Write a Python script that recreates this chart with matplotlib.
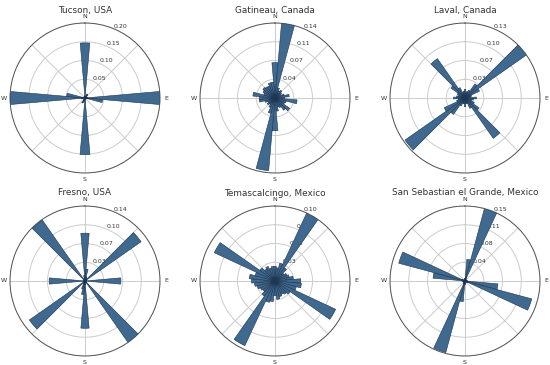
import numpy as np
import matplotlib.pyplot as plt

# wind direction bins (degrees, clockwise from north), 10 degree sectors
directions = np.arange(0, 360, 10)

titles = ["Tucson, USA", "Gatineau, Canada", "Laval, Canada",
          "Fresno, USA", "Temascalcingo, Mexico", "San Sebastian el Grande, Mexico"]

tucson = [0.147, 0.005, 0.004, 0.012, 0.010, 0.004, 0.003, 0.004, 0.008, 0.200,
          0.047, 0.006, 0.003, 0.003, 0.002, 0.003, 0.003, 0.005, 0.151, 0.008,
          0.012, 0.015, 0.005, 0.003, 0.003, 0.004, 0.010, 0.199, 0.049, 0.006,
          0.003, 0.003, 0.003, 0.004, 0.004, 0.006]
gatineau = [0.067, 0.142, 0.020, 0.015, 0.018, 0.015, 0.012, 0.018, 0.027, 0.018,
            0.042, 0.022, 0.020, 0.034, 0.028, 0.020, 0.018, 0.025, 0.062, 0.138,
            0.030, 0.020, 0.015, 0.018, 0.015, 0.020, 0.030, 0.030, 0.042, 0.022,
            0.025, 0.028, 0.026, 0.025, 0.030, 0.030]
laval = [0.015, 0.010, 0.012, 0.015, 0.030, 0.131, 0.028, 0.012, 0.010, 0.020,
         0.015, 0.012, 0.018, 0.030, 0.086, 0.020, 0.010, 0.010, 0.015, 0.010,
         0.010, 0.015, 0.035, 0.128, 0.040, 0.015, 0.012, 0.020, 0.015, 0.012,
         0.015, 0.030, 0.084, 0.020, 0.010, 0.012]
fresno = [0.088, 0.022, 0.008, 0.005, 0.005, 0.126, 0.004, 0.003, 0.003, 0.066,
          0.003, 0.003, 0.003, 0.004, 0.138, 0.004, 0.003, 0.006, 0.087, 0.025,
          0.015, 0.005, 0.004, 0.125, 0.004, 0.003, 0.003, 0.066, 0.003, 0.003,
          0.003, 0.004, 0.137, 0.004, 0.005, 0.010]
temascalcingo = [0.020, 0.018, 0.025, 0.102, 0.022, 0.015, 0.018, 0.020, 0.025, 0.035,
                 0.036, 0.030, 0.091, 0.025, 0.022, 0.020, 0.022, 0.025, 0.020, 0.028,
                 0.030, 0.097, 0.025, 0.020, 0.022, 0.025, 0.028, 0.032, 0.035, 0.028,
                 0.091, 0.025, 0.020, 0.022, 0.018, 0.020]
san_sebastian = [0.006, 0.044, 0.152, 0.005, 0.003, 0.003, 0.003, 0.003, 0.004, 0.006,
                 0.067, 0.140, 0.006, 0.004, 0.003, 0.003, 0.003, 0.005, 0.008, 0.042,
                 0.150, 0.006, 0.004, 0.003, 0.003, 0.003, 0.004, 0.006, 0.065, 0.139,
                 0.006, 0.003, 0.003, 0.003, 0.004, 0.005]

series = [tucson, gatineau, laval, fresno, temascalcingo, san_sebastian]
compass = ["N", "", "E", "", "S", "", "W", ""]

fig = plt.figure(figsize=(5.5, 3.65), dpi=100)

# axes boxes in figure fractions (circle ~150 px across)
W, H = 150 / 550, 150 / 365
lefts = [10 / 550, 200 / 550, 390 / 550]
bottoms = [1 - 173 / 365, 1 - 356 / 365]

theta = np.deg2rad(directions)
width = np.deg2rad(10)

for i, (title, vals) in enumerate(zip(titles, series)):
    ax = fig.add_axes([lefts[i % 3], bottoms[i // 3], W, H], projection="polar")
    vals = np.array(vals)
    rmax = vals.max()
    ax.set_theta_zero_location("N")
    ax.set_theta_direction(-1)
    ax.bar(theta, vals, width=width, color="#40698f", edgecolor="#1b3350",
           linewidth=0.4, zorder=3)
    ax.set_ylim(0, rmax)
    ticks = rmax * np.array([0.25, 0.5, 0.75, 1.0])
    ax.set_yticks(ticks)
    ax.set_yticklabels([f"{t:.2f}" for t in ticks], fontsize=4.5, color="#333333")
    ax.set_rlabel_position(22.5)
    ax.set_thetagrids(np.arange(0, 360, 45), compass, fontsize=4.5, color="#333333")
    ax.tick_params(axis="x", pad=-2.5, length=0)
    ax.grid(color="#cccccc", linewidth=0.7)
    ax.spines["polar"].set_color("#555555")
    ax.spines["polar"].set_linewidth(0.7)
    ax.set_title(title, fontsize=6.4, color="#333333", y=1.07, pad=0)

fig.savefig("out.png", dpi=100)
